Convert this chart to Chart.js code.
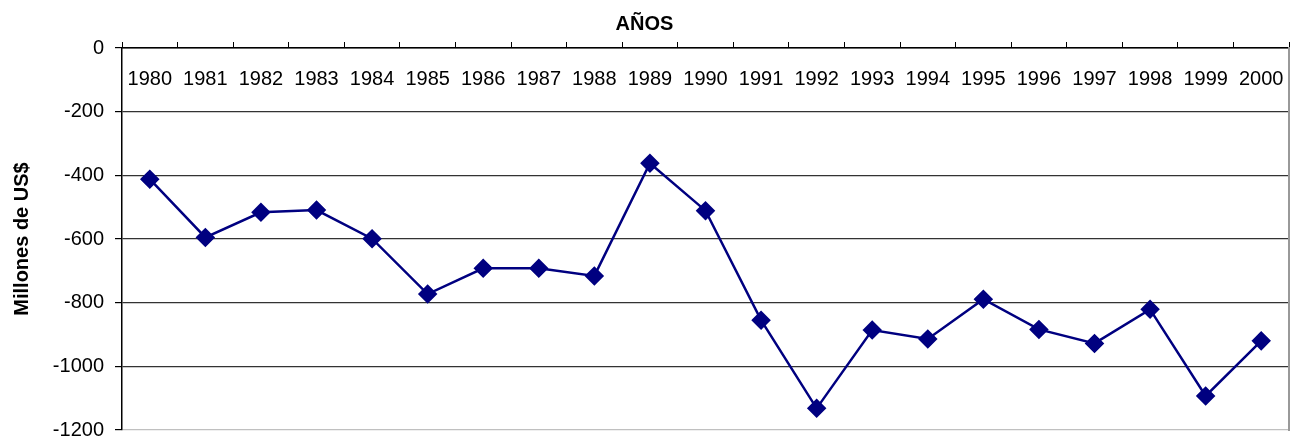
<!DOCTYPE html>
<html>
<head>
<meta charset="utf-8">
<script src="https://cdn.jsdelivr.net/npm/chart.js@4/dist/chart.umd.min.js"></script>
<style>
  html, body { margin: 0; padding: 0; background: #fff; }
  #wrap { width: 1303px; height: 442px; }
</style>
</head>
<body>
<div id="wrap"><canvas id="grafico"></canvas></div>
<script>
// datos
var anios = ["1980", "1981", "1982", "1983", "1984", "1985", "1986", "1987", "1988", "1989", "1990",
    "1991", "1992", "1993", "1994", "1995", "1996", "1997", "1998", "1999", "2000"];
var saldo = [-412, -595, -516, -509, -599, -773, -692, -692, -716, -362, -511,
    -855, -1132, -886, -914, -789, -884, -928, -821, -1093, -920];
var y_min = -1200;
var y_max = 0;
var y_paso = 200;

var azul = "#000080";
var fuente = "'Liberation Sans', Arial, sans-serif";

var ctx = document.getElementById("grafico");
var grafico = new Chart(ctx, {
    type: "line",
    data: {
        labels: anios,
        datasets: [
            {
                label: "Saldo",
                data: saldo,
                borderColor: azul,
                backgroundColor: azul,
                borderWidth: 2.5,
                pointStyle: "rectRot",
                pointRadius: 8,
                pointHoverRadius: 8,
                tension: 0,
                fill: false,
            },
        ],
    },
    options: {
        responsive: true,
        maintainAspectRatio: false,
        animation: false,
        layout: { padding: { left: 0, right: 14, top: 0, bottom: 12 } },
        plugins: {
            legend: { display: false },
            tooltip: { enabled: false },
            title: {
                display: true,
                text: "AÑOS",
                color: "#000",
                font: { family: fuente, size: 20, weight: "bold" },
                padding: { top: 12, bottom: 6 },
            },
        },
        scales: {
            x: {
                position: "top",
                offset: true,
                grid: {
                    display: true,
                    offset: true,
                    drawOnChartArea: false,
                    drawTicks: true,
                    tickLength: 6,
                    tickColor: "#000",
                    tickWidth: 1,
                },
                border: { display: true, color: "#000", width: 1.5 },
                ticks: {
                    color: "#000",
                    font: { family: fuente, size: 20 },
                    mirror: true,
                    padding: 19,
                    maxRotation: 0,
                    autoSkip: false,
                },
                afterFit: function (s) {
                    s.height = 6;
                },
            },
            y: {
                min: y_min,
                max: y_max,
                grid: {
                    color: function (c) {
                        return c.tick && c.tick.value === y_min ? "#c0c0c0" : "#333";
                    },
                    lineWidth: 1.2,
                    tickLength: 7,
                    tickColor: "#000",
                },
                border: { display: true, color: "#000", width: 1.5 },
                ticks: {
                    stepSize: y_paso,
                    color: "#000",
                    font: { family: fuente, size: 20 },
                    padding: 11,
                    callback: function (v) {
                        return String(v);
                    },
                },
                title: {
                    display: true,
                    text: "Millones de US$",
                    color: "#000",
                    font: { family: fuente, size: 20, weight: "bold" },
                    padding: { top: 10, bottom: 0 },
                },
                afterFit: function (s) {
                    s.width = 122;
                    s.paddingTop = 0;
                    s.paddingBottom = 0;
                },
            },
            y2: {
                position: "right",
                min: y_min,
                max: y_max,
                grid: { display: false, drawTicks: false },
                ticks: { display: false },
                border: { display: true, color: "#999", width: 2 },
            },
        },
    },
});
</script>
</body>
</html>
